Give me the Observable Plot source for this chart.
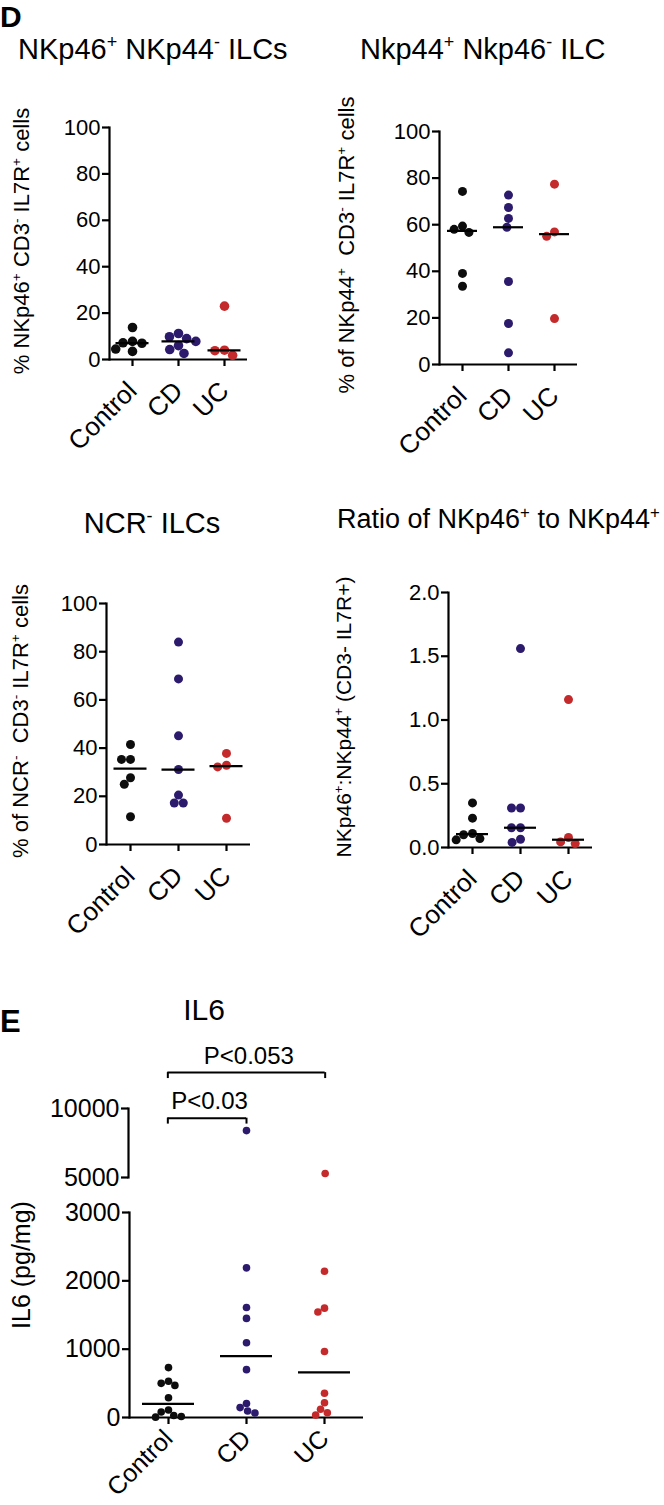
<!DOCTYPE html>
<html><head><meta charset="utf-8">
<script src="https://cdn.jsdelivr.net/npm/d3@7"></script>
<script src="https://cdn.jsdelivr.net/npm/@observablehq/plot@0.6"></script>
<style>
html,body{margin:0;padding:0;background:#fff;}
#page{position:relative;width:664px;height:1505px;overflow:hidden;font-family:"Liberation Sans",Arial,Helvetica,sans-serif;color:#000;}
.lbl{position:absolute;white-space:nowrap;line-height:1;}
.lbl sup{font-size:0.62em;vertical-align:baseline;position:relative;top:-0.62em;line-height:0;}
#page svg{position:absolute;overflow:visible;background:transparent;}
</style></head><body><div id="page"></div>
<script>
const groups = ["Control", "CD", "UC"];
const groupColors = ["#0d0d0d", "#2c1a6c", "#c42a2b"];

// NKp46+ NKp44- ILCs (% of CD3- IL7R+ cells)
const nkp46Control = [13.8, 7.8, 7.2, 7.0, 4.5, 3.5];
const nkp46CD = [11.2, 9.8, 9.0, 7.8, 6.0, 4.3, 2.6];
const nkp46UC = [23.0, 4.0, 3.8, 1.8];
// Nkp44+ Nkp46- ILC
const nkp44Control = [74.3, 59.4, 58.0, 56.7, 39.1, 33.6];
const nkp44CD = [72.7, 67.4, 62.7, 58.9, 35.6, 17.6, 5.0];
const nkp44UC = [77.4, 56.9, 55.0, 19.7];
// NCR- ILCs
const ncrControl = [41.5, 35.3, 35.3, 27.7, 25.0, 11.5];
const ncrCD = [84.0, 68.7, 45.1, 31.1, 20.5, 17.2, 17.2];
const ncrUC = [37.8, 32.9, 32.2, 10.9];
// Ratio NKp46+ : NKp44+
const ratioControl = [0.35, 0.23, 0.11, 0.10, 0.07, 0.06];
const ratioCD = [1.56, 0.31, 0.31, 0.155, 0.155, 0.065, 0.04];
const ratioUC = [1.16, 0.078, 0.044, 0.031];
// IL6 (pg/mg)
const il6Control = [730, 530, 500, 470, 290, 110, 80, 30, 15, 5];
const il6CD = [8400, 2190, 1610, 1450, 1095, 700, 205, 145, 95, 65];
const il6UC = [5290, 2140, 1600, 1545, 965, 355, 215, 120, 70, 35];

const pctTicks = [0, 20, 40, 60, 80, 100];
const ratioTicks = [0, 0.5, 1.0, 1.5, 2.0];
const il6LowTicks = [0, 1000, 2000, 3000];
const il6HighTicks = [5000, 10000];
const il6Break = 3000;
const il6Comparisons = [
  {from: "Control", to: "CD", label: "P<0.03", level: 9300},
  {from: "Control", to: "UC", label: "P<0.053", level: 12600}
];

const FONT = '"Liberation Sans", Arial, Helvetica, sans-serif';
const page = document.getElementById("page");

function toRows(arrs) {
  return groups.flatMap((g, i) => arrs[i].map(v => ({group: g, value: v})));
}

function panel({rows, medianRows = rows, domain, ticks, fmt, x0, x1, y0, y1, r, inset, tickFont, xFont = 26, xPad = 20, mb = 130}) {
  const ml = 80, mr = 20, mt = 20;
  const svg = Plot.plot({
    width: (x1 - x0) + ml + mr,
    height: (y1 - y0) + mt + mb,
    marginLeft: ml, marginRight: mr, marginTop: mt, marginBottom: mb,
    style: {fontFamily: FONT, fontSize: tickFont + "px", background: "transparent", overflow: "visible", color: "#000"},
    fx: {domain: groups, padding: 0, label: null},
    y: {domain, label: null},
    color: {domain: groups, range: groupColors},
    marks: [
      Plot.ruleY([domain[0]], {stroke: "#000", strokeWidth: 2.2}),
      Plot.frame({anchor: "left", facetAnchor: "left", stroke: "#000", strokeWidth: 2.2}),
      Plot.axisY({ticks, tickFormat: fmt, tickSize: 7, tickPadding: 2, fontSize: tickFont, strokeWidth: 2.2, label: null}),
      Plot.axisFx({anchor: "bottom", tickSize: 7, tickPadding: xPad, tickRotate: -45, fontSize: xFont, strokeWidth: 2.2, label: null}),
      Plot.dot(rows, Plot.dodgeX({anchor: "middle", padding: 0}, {fx: "group", y: "value", r, fill: "group"})),
      Plot.tickY(medianRows, Plot.groupZ({y: "median"}, {fx: "group", y: "value", stroke: "#000", strokeWidth: 2.2, insetLeft: inset, insetRight: inset}))
    ]
  });
  svg.style.left = (x0 - ml) + "px";
  svg.style.top = (y0 - mt) + "px";
  page.appendChild(svg);
}

function text(html, {left, baseline, size, bold = false, center = false}) {
  const d = document.createElement("div");
  d.className = "lbl";
  d.innerHTML = html;
  d.style.fontSize = size + "px";
  d.style.left = left + "px";
  d.style.top = (baseline - 0.8465 * size) + "px";
  if (bold) d.style.fontWeight = "bold";
  if (center) d.style.transform = "translateX(-50%)";
  page.appendChild(d);
}
function vtext(html, {cx, cy, size}) {
  const d = document.createElement("div");
  d.className = "lbl";
  d.innerHTML = html;
  d.style.fontSize = size + "px";
  d.style.left = cx + "px";
  d.style.top = cy + "px";
  d.style.transform = "translate(-50%,-50%) rotate(-90deg)";
  page.appendChild(d);
}

const f0 = d => String(d);
const f1 = d3.format(".1f");

panel({rows: toRows([nkp46Control, nkp46CD, nkp46UC]), domain: [0, 100], ticks: pctTicks, fmt: f0,
  x0: 108, x1: 248, y0: 127, y1: 359, r: 4.8, inset: 6.5, tickFont: 22});
panel({rows: toRows([nkp44Control, nkp44CD, nkp44UC]), domain: [0, 100], ticks: pctTicks, fmt: f0,
  x0: 438, x1: 578, y0: 131, y1: 364, r: 4.5, inset: 8, tickFont: 22});
panel({rows: toRows([ncrControl, ncrCD, ncrUC]), domain: [0, 100], ticks: pctTicks, fmt: f0,
  x0: 106, x1: 250, y0: 603, y1: 844, r: 4.5, inset: 7.5, tickFont: 22});
panel({rows: toRows([ratioControl, ratioCD, ratioUC]), domain: [0, 2], ticks: ratioTicks, fmt: f1,
  x0: 447, x1: 593, y0: 592, y1: 847, r: 4.5, inset: 8, tickFont: 22});

const il6Rows = toRows([il6Control, il6CD, il6UC]);
panel({rows: il6Rows.filter(d => d.value <= il6Break), medianRows: il6Rows, domain: [0, 3000], ticks: il6LowTicks, fmt: f0,
  x0: 128, x1: 364, y0: 1212, y1: 1417, r: 3.8, inset: 13, tickFont: 25, xFont: 25, xPad: 10, mb: 86});

// upper segment of the broken IL6 axis
{
  const x0 = 128, x1 = 364, y0 = 1108, y1 = 1177;
  const ml = 80, mr = 20, mt = 90, mb = 10;
  const gi = g => groups.indexOf(g) + 0.5;
  const up = il6Rows.filter(d => d.value > il6Break);
  const svg = Plot.plot({
    width: (x1 - x0) + ml + mr,
    height: (y1 - y0) + mt + mb,
    marginLeft: ml, marginRight: mr, marginTop: mt, marginBottom: mb,
    style: {fontFamily: FONT, fontSize: "25px", background: "transparent", overflow: "visible", color: "#000"},
    x: {domain: [0, 3], axis: null},
    y: {domain: [5000, 10000], label: null},
    color: {domain: groups, range: groupColors},
    marks: [
      Plot.frame({anchor: "left", stroke: "#000", strokeWidth: 2.2}),
      Plot.axisY({ticks: il6HighTicks, tickFormat: f0, tickSize: 7, tickPadding: 2, fontSize: 25, strokeWidth: 2.2, label: null}),
      Plot.dot(up, {x: d => gi(d.group), y: "value", r: 3.8, fill: "group"}),
      Plot.ruleY(il6Comparisons, {x1: d => gi(d.from), x2: d => gi(d.to), y: "level", stroke: "#000", strokeWidth: 2}),
      Plot.ruleX(il6Comparisons, {x: d => gi(d.from), y1: "level", y2: d => d.level - 430, stroke: "#000", strokeWidth: 2}),
      Plot.ruleX(il6Comparisons, {x: d => gi(d.to), y1: "level", y2: d => d.level - 430, stroke: "#000", strokeWidth: 2}),
      Plot.text(il6Comparisons, {x: d => (gi(d.from) + gi(d.to)) / 2 + 0.03, y: "level", text: "label", dy: -9, lineAnchor: "bottom", fontSize: 24})
    ]
  });
  svg.style.left = (x0 - ml) + "px";
  svg.style.top = (y0 - mt) + "px";
  page.appendChild(svg);
}

// titles, panel letters, axis titles
text("D", {left: 0, baseline: 27, size: 30, bold: true});
text("E", {left: 0, baseline: 1032, size: 31, bold: true});
text("NKp46<sup>+</sup> NKp44<sup>-</sup> ILCs", {left: 18, baseline: 60, size: 29});
text("Nkp44<sup>+</sup> Nkp46<sup>-</sup> ILC", {left: 360, baseline: 60, size: 29});
text("NCR<sup>-</sup> ILCs", {left: 152, baseline: 534, size: 29, center: true});
text("Ratio of NKp46<sup>+</sup> to NKp44<sup>+</sup>", {left: 337, baseline: 529, size: 27});
text("IL6", {left: 204, baseline: 1020, size: 30, center: true});

vtext("% NKp46<sup>+</sup> CD3<sup>-</sup> IL7R<sup>+</sup> cells", {cx: 22, cy: 241, size: 22});
vtext("% of NKp44<sup>+</sup>&nbsp; CD3<sup>-</sup> IL7R<sup>+</sup> cells", {cx: 347, cy: 245, size: 22});
vtext("% of NCR<sup>-</sup>&nbsp; CD3<sup>-</sup> IL7R<sup>+</sup> cells", {cx: 21, cy: 721, size: 22});
vtext("NKp46<sup>+</sup>:NKp44<sup>+</sup> (CD3- IL7R+)", {cx: 343, cy: 717, size: 21});
vtext("IL6 (pg/mg)", {cx: 21, cy: 1265, size: 25});
</script></body></html>
